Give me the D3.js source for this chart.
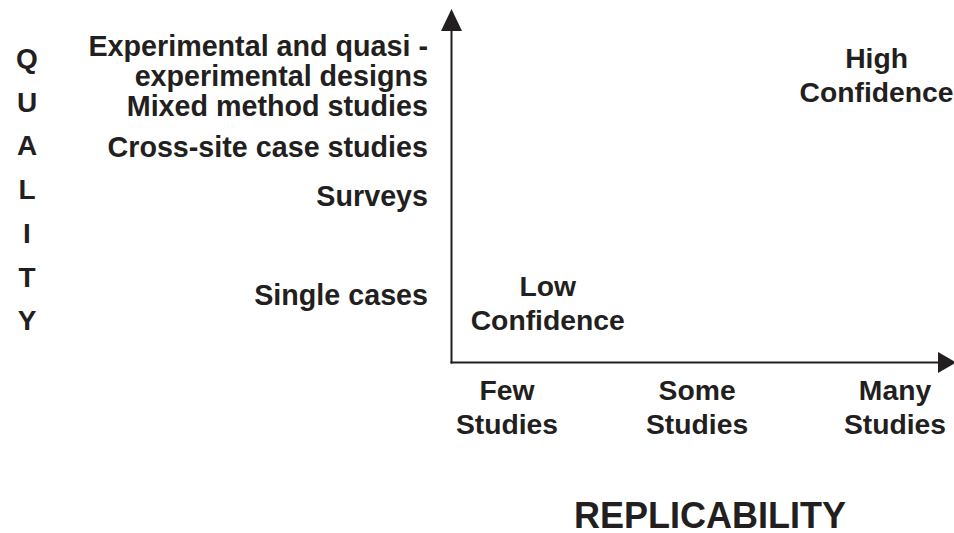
<!DOCTYPE html>
<html>
<head>
<meta charset="utf-8">
<script src="https://cdn.jsdelivr.net/npm/d3@7"></script>
<style>
  html, body { margin: 0; padding: 0; background: #fff; }
</style>
</head>
<body>
<svg id="chart" width="954" height="533"></svg>
<script>
// quality levels (y) - each label may wrap on several lines
var qualityLabels = [
  ["Single cases"],
  ["Surveys"],
  ["Cross-site case studies"],
  ["Mixed method studies"],
  ["Experimental and quasi -", "experimental designs"]
];
var qualityScores = [1.9, 4.72, 6.11, 7.28, 8.54];

// replicability levels (x)
var replicabilityLabels = [["Few", "Studies"], ["Some", "Studies"], ["Many", "Studies"]];
var replicabilityScores = [1, 1.98, 3];

// confidence annotations
var confidenceLabels = [["Low", "Confidence"], ["High", "Confidence"]];
var confidenceReplicability = [1.21, 2.905];
var confidenceQuality = [1.68, 8.15];

var axisLetters = "QUALITY".split("");

var svg = d3.select("#chart"),
    font = "Arial, 'Liberation Sans', Helvetica, sans-serif",
    ink = "#231f20",
    origin = {x: 451.5, y: 362.5},
    fontSize = 28.3,
    capMid = 10;

var x = d3.scaleLinear().domain([1, 3]).range([507, 895]);
var y = d3.scaleLinear().domain([0, 10]).range([362, 10]);

// axis lines with arrow heads
svg.append("line")
  .attr("x1", origin.x).attr("y1", origin.y + 1)
  .attr("x2", origin.x).attr("y2", 30)
  .attr("stroke", ink).attr("stroke-width", 2);
svg.append("path")
  .attr("d", "M" + (origin.x - 10.5) + ",31 L" + (origin.x + 10.5) + ",31 L" + origin.x + ",9 Z")
  .attr("fill", ink);
svg.append("line")
  .attr("x1", origin.x - 1).attr("y1", origin.y)
  .attr("x2", 940).attr("y2", origin.y)
  .attr("stroke", ink).attr("stroke-width", 2);
svg.append("path")
  .attr("d", "M938," + (origin.y - 10.5) + " L938," + (origin.y + 10.5) + " L956," + origin.y + " Z")
  .attr("fill", ink);

function styleText(sel, size) {
  sel.attr("font-family", font)
    .attr("font-weight", "bold")
    .attr("font-size", size)
    .attr("fill", ink);
}

function multiLine(sel, lines, lh) {
  var n = lines.length;
  lines.forEach(function(t, i) {
    sel.append("tspan")
      .attr("x", sel.attr("x"))
      .attr("dy", i === 0 ? (capMid - (n - 1) / 2 * lh) : lh)
      .text(t);
  });
}

// y tick labels
svg.append("g").attr("class", "y-labels")
  .selectAll("text")
  .data(qualityLabels)
  .enter().append("text")
  .attr("x", 428)
  .attr("y", function(d, i) { return y(qualityScores[i]); })
  .attr("text-anchor", "end")
  .call(styleText, 28.7)
  .each(function(d) { multiLine(d3.select(this), d, 30); });

// x tick labels
svg.append("g").attr("class", "x-labels")
  .selectAll("text")
  .data(replicabilityLabels)
  .enter().append("text")
  .attr("x", function(d, i) { return x(replicabilityScores[i]); })
  .attr("y", 407)
  .attr("text-anchor", "middle")
  .call(styleText, fontSize)
  .each(function(d) { multiLine(d3.select(this), d, 34); });

// confidence annotations
svg.append("g").attr("class", "confidence")
  .selectAll("text")
  .data(confidenceLabels)
  .enter().append("text")
  .attr("x", function(d, i) { return x(confidenceReplicability[i]); })
  .attr("y", function(d, i) { return y(confidenceQuality[i]); })
  .attr("text-anchor", "middle")
  .call(styleText, fontSize)
  .each(function(d) { multiLine(d3.select(this), d, 34); });

// vertical axis title, one letter per row
svg.append("g").attr("class", "y-title")
  .selectAll("text")
  .data(axisLetters)
  .enter().append("text")
  .attr("x", 27)
  .attr("y", function(d, i) { return 68 + i * 43.7; })
  .attr("text-anchor", "middle")
  .call(styleText, 28)
  .text(function(d) { return d; });

// horizontal axis title
svg.append("text")
  .attr("x", 710)
  .attr("y", 528)
  .attr("text-anchor", "middle")
  .call(styleText, 36)
  .text("REPLICABILITY");
</script>
</body>
</html>
